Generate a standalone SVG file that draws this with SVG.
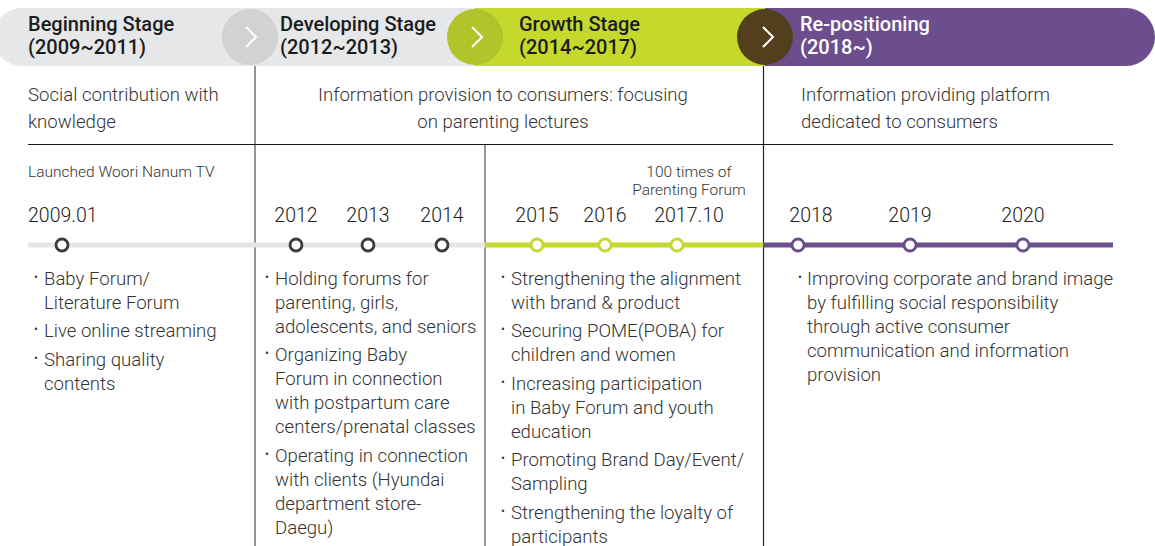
<svg xmlns="http://www.w3.org/2000/svg" width="1155" height="546" viewBox="0 0 1155 546">
<style>
text{font-family:Roboto,"Liberation Sans",sans-serif}
.h{font-weight:500;font-size:20px;fill:#1c1c1c}
.hw{fill:#fff}
.d{font-weight:300;font-size:18.6px;fill:#333}
.yr{font-weight:300;font-size:19.5px;fill:#222}
.sm{font-weight:300;font-size:15.5px;fill:#333}
.b{font-size:12px}
.chev{fill:none;stroke:#fff;stroke-width:2}
.mk{fill:#fff;stroke-width:2.8}
.mg{stroke:#3a3a3a}
.mgr{stroke:#c5d82e}
.mp{stroke:#6b4e8d}
</style>
<rect width="1155" height="546" fill="#fff"/>

<g id="stage-beginning">
<rect x="-7" y="8" width="520" height="58" rx="29" fill="#e6e7e8"/>
<text class="h" x="28" y="31">Beginning Stage</text>
<text class="h" x="28" y="54">(2009~2011)</text>
</g>
<g id="stage-developing">
<circle cx="250" cy="37" r="28" fill="#d1d2d4"/>
<polyline class="chev" points="246,27 256,37 246,47"/>
<text class="h" x="280" y="31">Developing Stage</text>
<text class="h" x="280" y="54">(2012~2013)</text>
</g>
<g id="stage-growth">
<rect x="475" y="8" width="320" height="58" fill="#c5d92d"/>
<circle cx="475" cy="37" r="28" fill="#b1c42a"/>
<polyline class="chev" points="472,27 482,37 472,47"/>
<text class="h" x="519" y="31">Growth Stage</text>
<text class="h" x="519" y="54">(2014~2017)</text>
</g>
<g id="stage-repositioning">
<path d="M765,8 H1126 A29,29 0 0 1 1126,66 H765 Z" fill="#6c4e8e"/>
<circle cx="765" cy="37" r="28" fill="#533f1d"/>
<polyline class="chev" points="763,27 773,37 763,47"/>
<text class="h hw" x="800" y="31">Re-positioning</text>
<text class="h hw" x="800" y="54">(2018~)</text>
</g>

<g id="connectors">
<line x1="255" y1="66" x2="255" y2="546" stroke="#6f6f6f" stroke-width="1.5"/>
<line x1="485" y1="145" x2="485" y2="546" stroke="#555" stroke-width="1.2"/>
<line x1="763.5" y1="66" x2="763.5" y2="546" stroke="#222" stroke-width="1.2"/>
<line x1="28" y1="144.5" x2="1113" y2="144.5" stroke="#1a1a1a" stroke-width="1.2"/>
<line x1="28" y1="245" x2="485" y2="245" stroke="#e5e5e5" stroke-width="5"/>
<line x1="485" y1="245" x2="763" y2="245" stroke="#c5d82e" stroke-width="5"/>
<line x1="763" y1="245" x2="1113" y2="245" stroke="#6b4e8d" stroke-width="5"/>
</g>

<g id="desc">
<text class="d" x="28" y="101">Social contribution with</text>
<text class="d" x="28" y="128">knowledge</text>
<text class="d" x="503" y="101" text-anchor="middle">Information provision to consumers: focusing</text>
<text class="d" x="503" y="128" text-anchor="middle">on parenting lectures</text>
<text class="d" x="801" y="101">Information providing platform</text>
<text class="d" x="801" y="128">dedicated to consumers</text>
</g>

<g id="notes">
<text class="sm" x="28" y="177">Launched Woori Nanum TV</text>
<text class="sm" x="689" y="177" text-anchor="middle">100 times of</text>
<text class="sm" x="689" y="195" text-anchor="middle">Parenting Forum</text>
</g>

<g id="m2009"><text class="yr" x="28" y="222">2009.01</text><circle class="mk mg" cx="62" cy="245" r="6"/></g>
<g id="m2012"><text class="yr" x="296" y="222" text-anchor="middle">2012</text><circle class="mk mg" cx="296" cy="245" r="6"/></g>
<g id="m2013"><text class="yr" x="368" y="222" text-anchor="middle">2013</text><circle class="mk mg" cx="368" cy="245" r="6"/></g>
<g id="m2014"><text class="yr" x="442" y="222" text-anchor="middle">2014</text><circle class="mk mg" cx="442" cy="245" r="6"/></g>
<g id="m2015"><text class="yr" x="537" y="222" text-anchor="middle">2015</text><circle class="mk mgr" cx="537" cy="245" r="6"/></g>
<g id="m2016"><text class="yr" x="605" y="222" text-anchor="middle">2016</text><circle class="mk mgr" cx="605" cy="245" r="6"/></g>
<g id="m2017"><text class="yr" x="689" y="222" text-anchor="middle">2017.10</text><circle class="mk mgr" cx="677" cy="245" r="6"/></g>
<g id="m2018"><text class="yr" x="811" y="222" text-anchor="middle">2018</text><circle class="mk mp" cx="798" cy="245" r="6"/></g>
<g id="m2019"><text class="yr" x="910" y="222" text-anchor="middle">2019</text><circle class="mk mp" cx="910" cy="245" r="6"/></g>
<g id="m2020"><text class="yr" x="1023" y="222" text-anchor="middle">2020</text><circle class="mk mp" cx="1023" cy="245" r="6"/></g>

<g id="col-beginning">
<text class="d" y="285"><tspan class="b" x="34" dy="-4">•</tspan><tspan x="44" dy="4">Baby Forum/</tspan></text>
<text class="d" x="44" y="309">Literature Forum</text>
<text class="d" y="337"><tspan class="b" x="34" dy="-4">•</tspan><tspan x="44" dy="4">Live online streaming</tspan></text>
<text class="d" y="366"><tspan class="b" x="34" dy="-4">•</tspan><tspan x="44" dy="4">Sharing quality</tspan></text>
<text class="d" x="44" y="390">contents</text>
</g>

<g id="col-developing">
<text class="d" y="285"><tspan class="b" x="265" dy="-4">•</tspan><tspan x="275" dy="4">Holding forums for</tspan></text>
<text class="d" x="275" y="309">parenting, girls,</text>
<text class="d" x="275" y="333">adolescents, and seniors</text>
<text class="d" y="361"><tspan class="b" x="265" dy="-4">•</tspan><tspan x="275" dy="4">Organizing Baby</tspan></text>
<text class="d" x="275" y="385">Forum in connection</text>
<text class="d" x="275" y="409">with postpartum care</text>
<text class="d" x="275" y="433">centers/prenatal classes</text>
<text class="d" y="462"><tspan class="b" x="265" dy="-4">•</tspan><tspan x="275" dy="4">Operating in connection</tspan></text>
<text class="d" x="275" y="486">with clients (Hyundai</text>
<text class="d" x="275" y="510">department store-</text>
<text class="d" x="275" y="534">Daegu)</text>
</g>

<g id="col-growth">
<text class="d" y="285"><tspan class="b" x="501" dy="-4">•</tspan><tspan x="511" dy="4">Strengthening the alignment</tspan></text>
<text class="d" x="511" y="309">with brand &amp; product</text>
<text class="d" y="337"><tspan class="b" x="501" dy="-4">•</tspan><tspan x="511" dy="4">Securing POME(POBA) for</tspan></text>
<text class="d" x="511" y="361">children and women</text>
<text class="d" y="390"><tspan class="b" x="501" dy="-4">•</tspan><tspan x="511" dy="4">Increasing participation</tspan></text>
<text class="d" x="511" y="414">in Baby Forum and youth</text>
<text class="d" x="511" y="438">education</text>
<text class="d" y="466"><tspan class="b" x="501" dy="-4">•</tspan><tspan x="511" dy="4">Promoting Brand Day/Event/</tspan></text>
<text class="d" x="511" y="490">Sampling</text>
<text class="d" y="519"><tspan class="b" x="501" dy="-4">•</tspan><tspan x="511" dy="4">Strengthening the loyalty of</tspan></text>
<text class="d" x="511" y="543">participants</text>
</g>

<g id="col-repositioning">
<text class="d" y="285"><tspan class="b" x="798" dy="-4">•</tspan><tspan x="807" dy="4">Improving corporate and brand image</tspan></text>
<text class="d" x="807" y="309">by fulfilling social responsibility</text>
<text class="d" x="807" y="333">through active consumer</text>
<text class="d" x="807" y="357">communication and information</text>
<text class="d" x="807" y="381">provision</text>
</g>
</svg>
